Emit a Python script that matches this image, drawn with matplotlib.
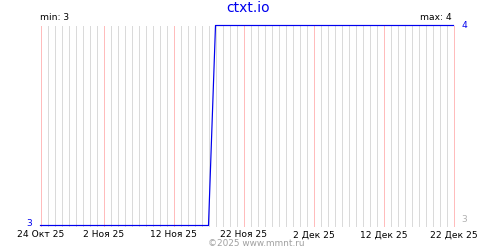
import matplotlib
matplotlib.use("Agg")
import matplotlib.pyplot as plt
import pandas as pd

# data (change points of the series)
dates = ["2025-10-24", "2025-11-17", "2025-11-18", "2025-12-22"]
values = [3, 3, 4, 4]
tick_dates = ["2025-10-24", "2025-11-02", "2025-11-12", "2025-11-22",
              "2025-12-02", "2025-12-12", "2025-12-22"]
tick_labels = ["24 Окт 25", "2 Ноя 25", "12 Ноя 25", "22 Ноя 25",
               "2 Дек 25", "12 Дек 25", "22 Дек 25"]
title = "ctxt.io"
min_val = 3
max_val = 4

plt.rcParams['font.family'] = ['DejaVu Sans']
fig = plt.figure(figsize=(5, 2.5), dpi=100)
ax = fig.add_axes([40.5/500, 24.5/250, 413/500, 200/250])

d = pd.to_datetime(dates)
td = pd.to_datetime(tick_dates)
start, end = d[0], d[-1]
ax.set_xlim(start, end)
ax.set_ylim(min_val, max_val)

px = 72 / 100  # one pixel in points

# daily grey grid and pink major lines
for day in pd.date_range(start, end, freq="D"):
    ax.axvline(day, color="#dadada", lw=px, zorder=1, antialiased=False, clip_on=False)
for t in td:
    ax.axvline(t, color="#ffbcbc", lw=px, zorder=2, antialiased=False, clip_on=False)

ax.plot(d, values, color="#0000ee", lw=1.2 * px, zorder=5, clip_on=False)

for s in ax.spines.values():
    s.set_visible(False)
ax.set_yticks([])
ax.set_xticks(td)
ax.set_xticklabels(tick_labels, fontsize=6.6)
ax.tick_params(axis="x", length=0, pad=3.5)

fig.text(0.496, 0.966, title, color="#0000ee", fontsize=10, ha="center", va="center")
fig.text(40/500, 232/250, f"min: {min_val}", fontsize=6.6, ha="left", va="center")
fig.text(452/500, 232/250, f"max: {max_val}", fontsize=6.6, ha="right", va="center")
fig.text(461/500, 225/250, f"{max_val}", color="#0000ee", fontsize=6.6, ha="left", va="center")
fig.text(32/500, 26/250, f"{min_val}", color="#0000ee", fontsize=6.6, ha="right", va="center")
fig.text(461/500, 31/250, f"{min_val}", color="#b0b0b0", fontsize=6.6, ha="left", va="center")
fig.text(256/500, 7/250, "©2025 www.mmnt.ru", color="#a0a0a0", fontsize=6.4, ha="center", va="center")

fig.savefig("out.png", dpi=100)
